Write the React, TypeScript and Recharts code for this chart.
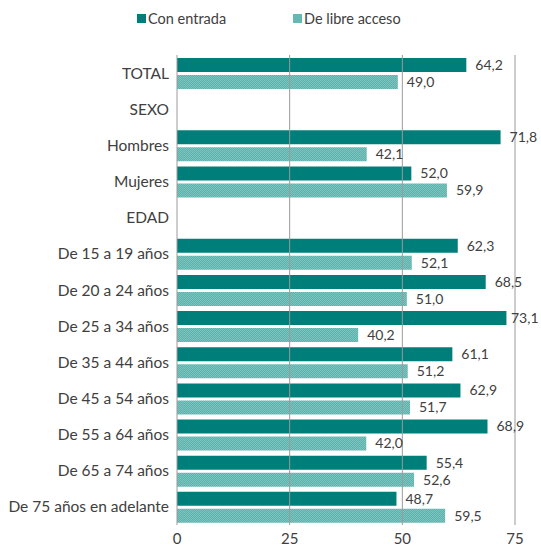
import { BarChart, Bar, XAxis, YAxis, LabelList, ReferenceLine } from "recharts"

const categories = [
  "TOTAL",
  "SEXO",
  "Hombres",
  "Mujeres",
  "EDAD",
  "De 15 a 19 años",
  "De 20 a 24 años",
  "De 25 a 34 años",
  "De 35 a 44 años",
  "De 45 a 54 años",
  "De 55 a 64 años",
  "De 65 a 74 años",
  "De 75 años en adelante",
]
const conEntrada = [64.2, null, 71.8, 52.0, null, 62.3, 68.5, 73.1, 61.1, 62.9, 68.9, 55.4, 48.7]
const libreAcceso = [49.0, null, 42.1, 59.9, null, 52.1, 51.0, 40.2, 51.2, 51.7, 42.0, 52.6, 59.5]
const xTicks = [0, 25, 50, 75]

const DARK = "#007f7a"
const LIGHT = "#66b8b2"
const TEXT = "#404040"
const FONT = "Lato, sans-serif"

const data = categories.map((c, i) => ({
  name: c,
  conEntrada: conEntrada[i],
  libreAcceso: libreAcceso[i],
}))

const fmt = (v: number) => v.toFixed(1).replace(".", ",")

function ValueLabel(props: any) {
  const { x, y, width, height, value } = props
  if (value == null) return null
  // keep the labels inside the picture on the right
  const lx = Math.min(x + width + 9, 511)
  return (
    <text
      x={lx}
      y={y + height / 2}
      dy="0.35em"
      fontSize={14}
      fill={TEXT}
      fontFamily={FONT}
    >
      {fmt(value)}
    </text>
  )
}

function LegendItem({ label, fill, left }: { label: string; fill: string; left: number }) {
  return (
    <div style={{ position: "absolute", left, top: 0, display: "flex", alignItems: "center" }}>
      <svg width={9} height={9} style={{ marginRight: 2 }}>
        <rect width={9} height={9} fill={fill} />
      </svg>
      <span style={{ fontSize: 14.5, color: TEXT, fontFamily: FONT }}>{label}</span>
    </div>
  )
}

export default function App() {
  return (
    <div style={{ position: "relative", width: 541, height: 547, background: "#fff" }}>
      <style>{"body { margin: 0; }"}</style>
      <div style={{ position: "absolute", top: 10, left: 0, width: 541, height: 20 }}>
        <LegendItem label="Con entrada" fill={DARK} left={137} />
        <LegendItem label="De libre acceso" fill={LIGHT} left={293} />
      </div>
      <BarChart
        width={541}
        height={547}
        data={data}
        layout="vertical"
        margin={{ top: 55, right: 26, left: 8, bottom: 2 }}
        barSize={14}
        barGap={3}
      >
        <defs>
          <pattern id="dots" width="2" height="2" patternUnits="userSpaceOnUse">
            <rect width="2" height="2" fill="#5fb2ac" />
            <rect width="1" height="1" fill="#7cc4bf" />
            <rect x="1" y="1" width="1" height="1" fill="#7cc4bf" />
          </pattern>
        </defs>
        <XAxis
          type="number"
          domain={[0, 75]}
          ticks={xTicks}
          axisLine={false}
          tickLine={false}
          height={20}
          tick={{ fontSize: 15, fill: TEXT, fontFamily: FONT }}
        />
        <YAxis
          type="category"
          dataKey="name"
          width={169}
          axisLine={false}
          tickLine={false}
          interval={0}
          tick={{ fontSize: 15.5, fill: TEXT, fontFamily: FONT }}
        />
        <Bar dataKey="conEntrada" fill={DARK} isAnimationActive={false}>
          <LabelList dataKey="conEntrada" content={<ValueLabel />} />
        </Bar>
        <Bar dataKey="libreAcceso" fill="url(#dots)" isAnimationActive={false}>
          <LabelList dataKey="libreAcceso" content={<ValueLabel />} />
        </Bar>
        {xTicks.map((t) => (
          <ReferenceLine key={t} x={t} stroke="#9a9a9a" strokeWidth={1} />
        ))}
      </BarChart>
    </div>
  )
}
